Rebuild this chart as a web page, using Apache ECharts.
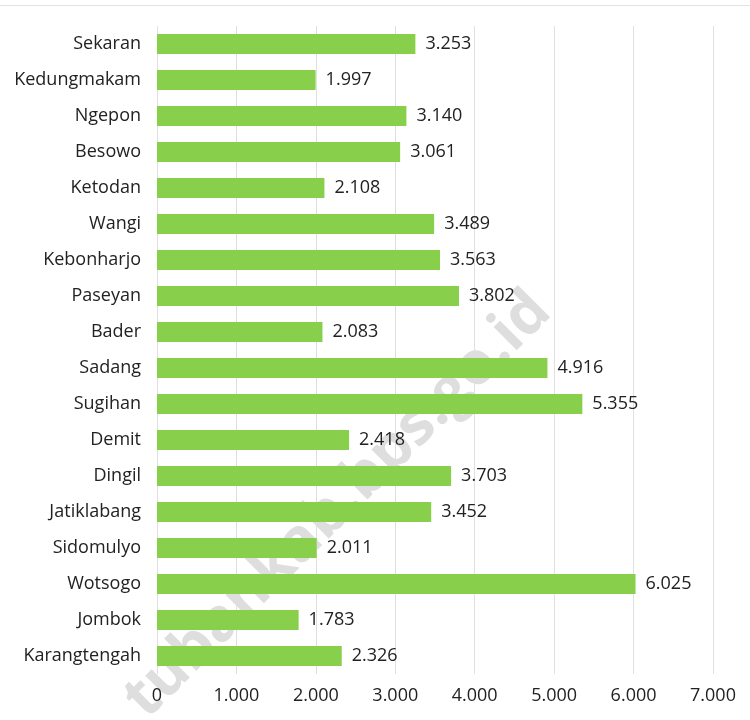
<!DOCTYPE html>
<html><head><meta charset="utf-8">
<script src="https://cdn.jsdelivr.net/npm/echarts@6/dist/echarts.min.js"></script>
<style>html,body{margin:0;padding:0;background:#fff}#c{width:750px;height:720px}</style>
</head><body><div id="c"></div>
<script>
const categories = ["Sekaran","Kedungmakam","Ngepon","Besowo","Ketodan","Wangi","Kebonharjo","Paseyan","Bader","Sadang","Sugihan","Demit","Dingil","Jatiklabang","Sidomulyo","Wotsogo","Jombok","Karangtengah"];
const values = [3253,1997,3140,3061,2108,3489,3563,3802,2083,4916,5355,2418,3703,3452,2011,6025,1783,2326];
const fmt = v => { const s = String(Math.round(v)); return s.length > 3 ? s.slice(0, s.length-3) + "." + s.slice(-3) : s; };
const FONT = "Open Sans";
const chart = echarts.init(document.getElementById('c'));
chart.setOption({
  animation: false,
  backgroundColor: '#fff',
  graphic: [
    {type:'line', shape:{x1:0,y1:5.5,x2:750,y2:5.5}, style:{stroke:'#e3e3e3', lineWidth:1}, z:-10},
    {type:'text', x:338, y:505, rotation: Math.PI/4, z:-5,
     style:{text:'tubankab.bps.go.id', fill:'#dedede', font:'bold 60px "Open Sans"', textAlign:'center', textVerticalAlign:'middle'}}
  ],
  grid: {left:157, right:37, top:26, bottom:46, containLabel:false},
  xAxis: {type:'value', min:0, max:7000, interval:1000,
    axisLine:{show:false}, axisTick:{show:false},
    splitLine:{lineStyle:{color:'#e0e0e0', width:1}},
    axisLabel:{formatter: fmt, color:'#222', fontFamily:FONT, fontSize:18, margin:13}},
  yAxis: {type:'category', data:categories, inverse:true,
    axisLine:{show:false}, axisTick:{show:false},
    axisLabel:{color:'#222', fontFamily:FONT, fontSize:18, margin:16}},
  series: [{type:'bar', data:values, barWidth:20, z:2,
    itemStyle:{color:'#88d04c'},
    label:{show:true, position:'right', distance:10, formatter: p => fmt(p.value), color:'#222', fontFamily:FONT, fontSize:18}}]
});
</script></body></html>
